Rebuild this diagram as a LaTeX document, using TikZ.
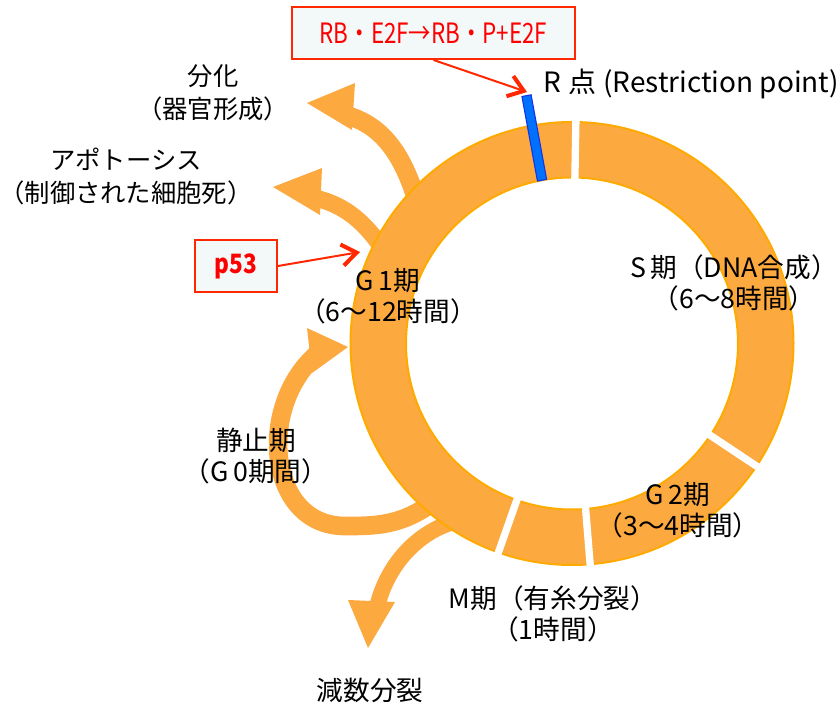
\documentclass[tikz,border=0pt]{standalone}
\usepackage{fontspec}
\setmainfont{Noto Sans CJK JP}
\usepackage{graphicx}
\usetikzlibrary{arrows.meta,calc}

\definecolor{ringorange}{RGB}{252,169,64}
\definecolor{ringedge}{RGB}{255,170,0}
\definecolor{markred}{RGB}{255,40,0}
\definecolor{boxfill}{RGB}{243,249,248}
\definecolor{rblue}{RGB}{0,112,255}
\definecolor{rblueedge}{RGB}{20,50,230}

\tikzset{
	phase/.style={font=\fontsize{20pt}{23pt}\selectfont,align=center,inner sep=0pt},
	fate/.style={font=\fontsize{19pt}{24.75pt}\selectfont,align=center,inner sep=0pt},
	redbox/.style={draw=markred,fill=boxfill,line width=1.5pt,text=red,inner sep=0pt},
	redarrow/.style={draw=markred,line width=1.5pt,-{Straight Barb[length=11pt,width=16pt,line width=3pt]}},
	bigarrow/.style={draw=ringorange,line width=14pt},
	gap/.style={draw=white,line width=5.5pt},
}

\begin{document}
\begin{tikzpicture}[x=0.75pt,y=-0.75pt]
		\useasboundingbox (0,0) rectangle (839,705);
		\coordinate (c) at (572,343.5);

		\coordinate (difftip) at (307,103);
		\coordinate (apoptip) at (273,187);
		\coordinate (g0tip) at (348,347);
		\coordinate (meiotip) at (368,648);

		\draw[bigarrow] (418,205) .. controls (405,160) and (385,125) .. (345,115);
		\fill[ringorange] (difftip) -- (355,83) -- (352,130) -- cycle;
		\draw[bigarrow,line width=12.75pt] (385,252) .. controls (365,222) and (345,205) .. (315,198);
		\fill[ringorange] (apoptip) -- (322,168) -- (320,215) -- cycle;
		\draw[bigarrow] (432,503) .. controls (400,526) and (375,526) .. (345,526) .. controls (265,526) and (256,400) .. (322,350);
		\fill[ringorange] (g0tip) -- (307,328) -- (312,373) -- cycle;
		\draw[bigarrow,line width=12pt] (462,520) .. controls (420,528) and (385,565) .. (376,612);
		\fill[ringorange] (meiotip) -- (348,600) -- (395,602) -- cycle;

		\draw[ringedge,line width=1.5pt,fill=ringorange,even odd rule] (c) circle[radius=221.5] (c) circle[radius=166];
		\draw[gap] ($(c)+(-89:162)$) -- ($(c)+(-89:226)$);
		\draw[gap] ($(c)+(33.6:162)$) -- ($(c)+(33.6:226)$);
		\draw[gap] ($(c)+(85.3:162)$) -- ($(c)+(85.3:226)$);
		\draw[gap] ($(c)+(109.4:162)$) -- ($(c)+(109.4:226)$);
		\node[draw=rblueedge,fill=rblue,line width=0.8pt,inner sep=0pt,minimum width=64.5pt,minimum height=7pt,rotate=100.4] (rbar) at ($(c)+(-100.4:209)$) {};
		\coordinate (rtip) at (527,92);
		\coordinate (g1tip) at (360,252);

		\node[fate] (diff) at (213,93) {分化\\（器官形成）};
		\node[fate] (apop) at (126,176) {アポトーシス\\（制御された細胞死）};
		\node[phase] (g1) at (388,296) {G\,1期\\（6〜12時間）};
		\node[phase] (sphase) at (734,283) {S\,期（DNA合成）\\（6〜8時間）};
		\node[phase] (g2) at (678,510) {G\,2期\\（3〜4時間）};
		\node[phase] (mphase) at (553,614) {M期（有糸分裂）\\（1時間）};
		\node[phase] (g0) at (256,456) {静止期\\（G\,0期間）};
		\node[phase] (meio) at (370,690) {減数分裂};
		\node[phase,anchor=west,font=\fontsize{21pt}{24pt}\selectfont] (rlabel) at (543,84) {R\;点 (Restriction point)};

		\node[redbox,minimum width=212pt,minimum height=39pt,font=\fontsize{21pt}{24pt}\selectfont] (rbbox) at (433.5,33) {\scalebox{0.8}[1]{RB・E2F→RB・P+E2F}};
		\node[redbox,minimum width=61.5pt,minimum height=39pt,font=\fontsize{20pt}{24pt}\selectfont\bfseries] (p53box) at (236,266) {\scalebox{0.85}[1]{p53}};
		\draw[redarrow] (rbbox.south) -- (rtip);
		\draw[redarrow] (p53box.east) -- (g1tip);
\end{tikzpicture}
\end{document}
